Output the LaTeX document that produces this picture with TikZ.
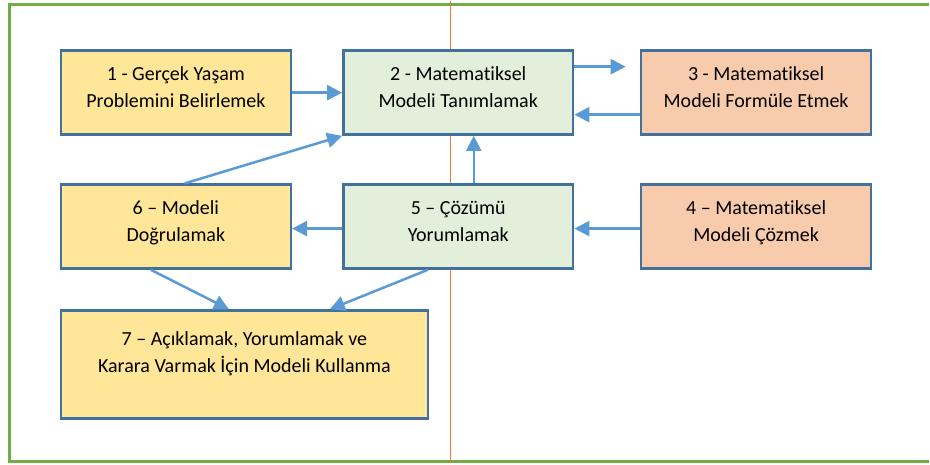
\documentclass[tikz,border=0pt]{standalone}
\usepackage{fontspec}
\setmainfont{Carlito}[Ligatures=NoCommon]
\usetikzlibrary{arrows.meta}

\definecolor{frameGreen}{HTML}{70AD47}
\definecolor{axisOrange}{HTML}{ED7D31}
\definecolor{boxBorder}{HTML}{41719C}
\definecolor{linkBlue}{HTML}{5B9BD5}
\definecolor{fillYellow}{HTML}{FFE699}
\definecolor{fillGreen}{HTML}{E2EFDA}
\definecolor{fillOrange}{HTML}{F8CBAD}

\begin{document}
\begin{tikzpicture}[
    x=1pt, y=-1pt,
    >={Triangle[length=15pt, width=15pt]},
    stage/.style={rectangle, draw=boxBorder, line width=2.5pt, minimum width=230pt, minimum height=84pt},
    yellowstage/.style={stage, fill=fillYellow},
    greenstage/.style={stage, fill=fillGreen},
    orangestage/.style={stage, fill=fillOrange},
    stagetext/.style={anchor=north, align=center, inner sep=0pt, font=\fontsize{20}{27}\selectfont},
    link/.style={->, draw=linkBlue, line width=2.5pt}
]
\fill[white] (0,0) rectangle (930,463);

% Frame and middle line first (bottom layer)
\draw[frameGreen, line width=3pt] (929,4) -- (10,4) -- (10,461) -- (929,461);
\draw[axisOrange, line width=1.4pt] (451,0) -- (451,463);

% Boxes, top row
\node[yellowstage] (problem) at (176,92) {};
\node[greenstage] (define) at (458.5,92) {};
\node[orangestage] (formulate) at (756.5,92) {};

% Boxes, middle row
\node[yellowstage] (verify) at (176,226) {};
\node[greenstage] (interpret) at (458.5,226) {};
\node[orangestage] (solve) at (756.5,226) {};

% Bottom box, wider and taller
\node[yellowstage, minimum width=367pt, minimum height=108pt] (use) at (244.5,364) {};

% Texts near the top of each box
\node[stagetext] (problem-t) at ([yshift=-11.8pt]problem.north) {\strut 1 - Gerçek Yaşam\\Problemini Belirlemek};
\node[stagetext] (define-t) at ([yshift=-11.8pt]define.north) {\strut 2 - Matematiksel\\Modeli Tanımlamak};
\node[stagetext] (formulate-t) at ([yshift=-11.8pt]formulate.north) {\strut 3 - Matematiksel\\Modeli Formüle Etmek};
\node[stagetext] (verify-t) at ([yshift=-11.8pt]verify.north) {\strut 6 – Modeli\\Doğrulamak};
\node[stagetext] (interpret-t) at ([yshift=-11.8pt]interpret.north) {\strut 5 – Çözümü\\Yorumlamak};
\node[stagetext] (solve-t) at ([yshift=-11.8pt]solve.north) {\strut 4 – Matematiksel\\Modeli Çözmek};
\node[stagetext] (use-t) at ([yshift=-17.1pt]use.north) {\strut 7 – Açıklamak, Yorumlamak ve\\Karara Varmak İçin Modeli Kullanma};

% Arrows
\coordinate (gap) at (626,66);
\draw[link] (problem.east) -- (define.west);
\draw[link] ([yshift=26pt]define.east) -- (gap);
\draw[link] ([yshift=-22pt]formulate.west) -- ([yshift=-22pt]define.east);
\draw[link] ([xshift=9pt]verify.north) -- (define.south west);
\draw[link] ([xshift=15.5pt]interpret.north) -- ([xshift=15.5pt]define.south);
\draw[link] ([yshift=-2pt]interpret.west) -- ([yshift=-2pt]verify.east);
\draw[link] ([yshift=-2pt]solve.west) -- ([yshift=-2pt]interpret.east);
\draw[link] ([xshift=-25pt]verify.south) -- ([xshift=-15.5pt]use.north);
\draw[link] ([xshift=-30.5pt]interpret.south) -- ([xshift=85.5pt]use.north);

\end{tikzpicture}
\end{document}
